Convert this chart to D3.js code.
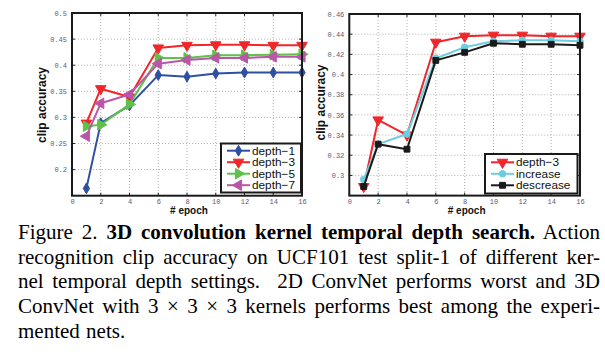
<!DOCTYPE html>
<html>
<head>
<meta charset="utf-8">
<script src="https://cdn.jsdelivr.net/npm/d3@7"></script>
<style>
  body { margin: 0; background: #fff; width: 605px; height: 355px; overflow: hidden; position: relative; }
  svg { position: absolute; left: 0; top: 0; }
  #caption { position: absolute; left: 18px; top: 220px; width: 582px; font-family: "Liberation Serif", "Times New Roman", serif; font-size: 21px; line-height: 24.7px; color: #000; }
  #caption div { text-align: justify; text-align-last: justify; white-space: nowrap; }
  #caption div.last { text-align-last: left; word-spacing: 1px; }
</style>
</head>
<body>
<svg id="chart" width="605" height="355"></svg>
<div id="caption"></div>
<script>
// ---------- data ----------
const epochs = [1, 2, 4, 6, 8, 10, 12, 14, 16];
const xTicks = [0, 2, 4, 6, 8, 10, 12, 14, 16];

// left panel
const depth1 = [0.164, 0.289, 0.323, 0.381, 0.378, 0.384, 0.386, 0.386, 0.386];
const depth3 = [0.289, 0.355, 0.339, 0.433, 0.438, 0.439, 0.439, 0.438, 0.438];
const depth5 = [0.283, 0.286, 0.325, 0.414, 0.414, 0.419, 0.419, 0.420, 0.421];
const depth7 = [0.264, 0.327, 0.344, 0.403, 0.410, 0.414, 0.414, 0.416, 0.416];
const leftYTicks = [0.2, 0.25, 0.3, 0.35, 0.4, 0.45, 0.5];
const leftYLabels = ["0.2", "0.25", "0.3", "0.35", "0.4", "0.45", "0.5"];

// right panel
const depth3b   = [0.289, 0.355, 0.340, 0.432, 0.438, 0.439, 0.439, 0.438, 0.438];
const increase  = [0.296, 0.331, 0.341, 0.416, 0.427, 0.433, 0.434, 0.434, 0.433];
const descrease = [0.289, 0.331, 0.326, 0.414, 0.422, 0.431, 0.430, 0.430, 0.429];
const rightYTicks = [0.3, 0.32, 0.34, 0.36, 0.38, 0.4, 0.42, 0.44, 0.46];
const rightYLabels = ["0.3", "0.32", "0.34", "0.36", "0.38", "0.4", "0.42", "0.44", "0.46"];

const captionLines = [
  'Figure 2. <b>3D convolution kernel temporal depth search.</b> Action',
  'recognition clip accuracy on UCF101 test split-1 of different ker-',
  'nel temporal depth settings.&nbsp; 2D ConvNet performs worst and 3D',
  'ConvNet with 3 × 3 × 3 kernels performs best among the experi-',
  'mented nets.'
];

// ---------- drawing ----------
const svg = d3.select("#chart");

const markerDefs = {
  diamond:   { type: d3.symbolDiamond, size: 34, rot: 0 },
  triDown:   { type: d3.symbolTriangle, size: 48, rot: 180 },
  triRight:  { type: d3.symbolTriangle, size: 48, rot: 90 },
  triLeft:   { type: d3.symbolTriangle, size: 48, rot: -90 },
  circle:    { type: d3.symbolCircle, size: 34, rot: 0 },
  square:    { type: d3.symbolSquare, size: 34, rot: 0 }
};

function drawPanel(cfg) {
  const g = svg.append("g");
  const x = d3.scaleLinear().domain([0, 16]).range([cfg.x0, cfg.x1]);
  const y = d3.scaleLinear().domain(cfg.yDomain).range([cfg.y1, cfg.y0]);

  // grid
  g.append("g").selectAll("line").data(xTicks.filter(t => t > 0 && t < 16)).join("line")
    .attr("x1", d => x(d)).attr("x2", d => x(d))
    .attr("y1", cfg.y0).attr("y2", cfg.y1)
    .attr("stroke", "#b0b0b0").attr("stroke-width", 1).attr("stroke-dasharray", "1,2");
  g.append("g").selectAll("line").data(cfg.yTicks.filter(t => t > cfg.yDomain[0] && t < cfg.yDomain[1])).join("line")
    .attr("x1", cfg.x0).attr("x2", cfg.x1)
    .attr("y1", d => y(d)).attr("y2", d => y(d))
    .attr("stroke", "#b0b0b0").attr("stroke-width", 1).attr("stroke-dasharray", "1,2");

  // axes labels (ticks)
  const xAxis = d3.axisBottom(x).tickValues(xTicks).tickSize(0).tickPadding(3);
  const ax = g.append("g").attr("transform", `translate(0,${cfg.y1})`).call(xAxis);
  ax.select(".domain").remove();
  ax.selectAll("text").attr("font-family", "Liberation Mono, DejaVu Sans Mono, monospace")
    .attr("font-size", 7).attr("fill", "#5a5a78");

  const yAxis = d3.axisLeft(y).tickValues(cfg.yTicks).tickSize(0).tickPadding(5)
    .tickFormat((d, i) => cfg.yLabels[i]);
  const ay = g.append("g").attr("transform", `translate(${cfg.x0},0)`).call(yAxis);
  ay.select(".domain").remove();
  ay.selectAll("text").attr("font-family", "Liberation Mono, DejaVu Sans Mono, monospace")
    .attr("font-size", 7).attr("fill", "#5a5a78");

  // small inward ticks
  g.append("g").selectAll("line").data(cfg.yTicks).join("line")
    .attr("x1", cfg.x0).attr("x2", cfg.x0 + 3).attr("y1", d => y(d)).attr("y2", d => y(d))
    .attr("stroke", "#222").attr("stroke-width", 1);
  g.append("g").selectAll("line").data(cfg.yTicks).join("line")
    .attr("x1", cfg.x1).attr("x2", cfg.x1 - 3).attr("y1", d => y(d)).attr("y2", d => y(d))
    .attr("stroke", "#222").attr("stroke-width", 1);
  g.append("g").selectAll("line").data(xTicks).join("line")
    .attr("x1", d => x(d)).attr("x2", d => x(d)).attr("y1", cfg.y1).attr("y2", cfg.y1 - 3)
    .attr("stroke", "#222").attr("stroke-width", 1);
  g.append("g").selectAll("line").data(xTicks).join("line")
    .attr("x1", d => x(d)).attr("x2", d => x(d)).attr("y1", cfg.y0).attr("y2", cfg.y0 + 3)
    .attr("stroke", "#222").attr("stroke-width", 1);

  // series
  cfg.series.forEach(s => {
    const line = d3.line().x((d, i) => x(epochs[i])).y(d => y(d));
    g.append("path").datum(s.values).attr("d", line)
      .attr("fill", "none").attr("stroke", s.color).attr("stroke-width", 2)
      .attr("stroke-linejoin", "round");
    const m = markerDefs[s.marker];
    const sym = d3.symbol().type(m.type).size(m.size);
    g.append("g").selectAll("path").data(s.values).join("path")
      .attr("d", sym)
      .attr("transform", (d, i) => `translate(${x(epochs[i])},${y(d)}) rotate(${m.rot})`)
      .attr("fill", s.color).attr("stroke", s.color).attr("stroke-width", 1);
  });

  // frame
  g.append("rect").attr("x", cfg.x0).attr("y", cfg.y0)
    .attr("width", cfg.x1 - cfg.x0).attr("height", cfg.y1 - cfg.y0)
    .attr("fill", "none").attr("stroke", "#1a1a1a").attr("stroke-width", 2);

  // axis titles
  g.append("text").attr("x", (cfg.x0 + cfg.x1) / 2 + 2).attr("y", cfg.y1 + 18.5)
    .attr("text-anchor", "middle").attr("font-family", "Liberation Sans, Arial, sans-serif")
    .attr("font-weight", "bold").attr("font-size", 10).attr("fill", "#111").text("# epoch");
  g.append("text").attr("transform", `translate(${cfg.ylabX},${cfg.ylabY}) rotate(-90)`)
    .attr("text-anchor", "middle").attr("dominant-baseline", "central")
    .attr("font-family", "Liberation Sans, Arial, sans-serif")
    .attr("font-weight", "bold").attr("font-size", 12).attr("fill", "#111").text("clip accuracy");

  // legend
  const L = cfg.legend;
  const lg = g.append("g");
  lg.append("rect").attr("x", L.x).attr("y", L.y).attr("width", L.w).attr("height", L.h)
    .attr("fill", "#fff").attr("stroke", "#1a1a1a").attr("stroke-width", 2);
  cfg.series.forEach((s, i) => {
    const cy = L.y + L.first + i * L.step;
    lg.append("line").attr("x1", L.x + 6).attr("x2", L.x + 29).attr("y1", cy).attr("y2", cy)
      .attr("stroke", s.color).attr("stroke-width", 2);
    const m = markerDefs[s.marker];
    lg.append("path").attr("d", d3.symbol().type(m.type).size(m.size)())
      .attr("transform", `translate(${L.x + 17.5},${cy}) rotate(${m.rot})`)
      .attr("fill", s.color).attr("stroke", s.color).attr("stroke-width", 1);
    lg.append("text").attr("x", L.x + 31).attr("y", cy).attr("dominant-baseline", "central")
      .attr("font-family", "Liberation Sans, Arial, sans-serif").attr("font-size", 11.8)
      .attr("fill", "#111").text(s.name);
  });
}

drawPanel({
  x0: 72, x1: 302, y0: 13, y1: 195.7,
  yDomain: [0.15, 0.5], yTicks: leftYTicks, yLabels: leftYLabels,
  ylabX: 42, ylabY: 105,
  series: [
    { name: "depth\u22121", values: depth1, color: "#2f4f9f", marker: "diamond" },
    { name: "depth\u22123", values: depth3, color: "#f0262a", marker: "triDown" },
    { name: "depth\u22125", values: depth5, color: "#5dc24a", marker: "triRight" },
    { name: "depth\u22127", values: depth7, color: "#bb55aa", marker: "triLeft" }
  ],
  legend: { x: 221, y: 143.5, w: 80, h: 49, first: 7.2, step: 11.5 }
});

drawPanel({
  x0: 349.3, x1: 580, y0: 14, y1: 195.6,
  yDomain: [0.28, 0.46], yTicks: rightYTicks, yLabels: rightYLabels,
  ylabX: 320.5, ylabY: 102.5,
  series: [
    { name: "depth\u22123", values: depth3b, color: "#f0262a", marker: "triDown" },
    { name: "increase", values: increase, color: "#6dcde0", marker: "circle" },
    { name: "descrease", values: descrease, color: "#1a1a1a", marker: "square" }
  ],
  legend: { x: 485, y: 154, w: 92.5, h: 39.5, first: 8.3, step: 11.5 }
});

// caption
const cap = d3.select("#caption");
captionLines.forEach((t, i) => {
  cap.append("div").attr("class", i === captionLines.length - 1 ? "last" : null).html(t);
});
</script>
</body>
</html>
